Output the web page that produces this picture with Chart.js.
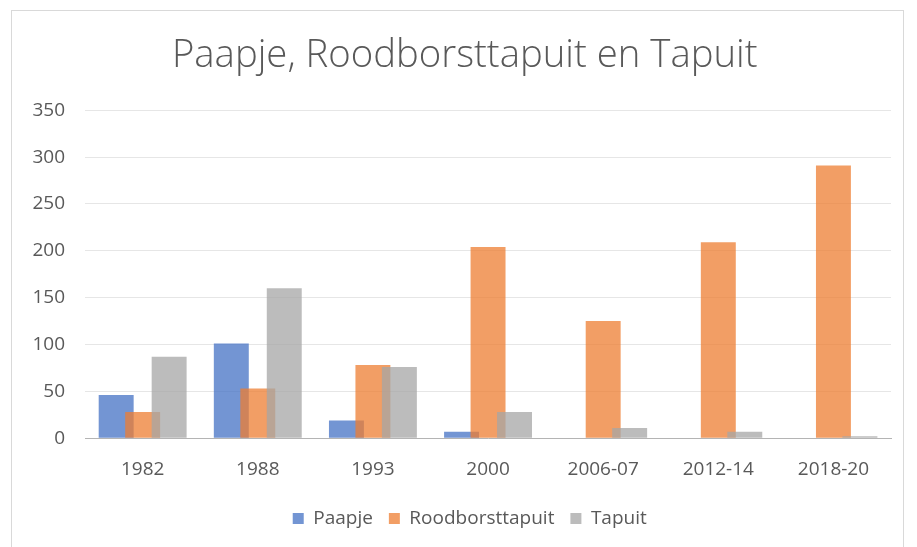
<!DOCTYPE html>
<html>
<head>
<meta charset="utf-8">
<script src="https://cdn.jsdelivr.net/npm/chart.js@4/dist/chart.umd.min.js"></script>
<style>
  html, body { margin: 0; padding: 0; background: #fff; }
  #wrap { position: relative; width: 917px; height: 547px; }
</style>
</head>
<body>
<div id="wrap"><canvas id="chart"></canvas></div>
<script>
const categories = ['1982', '1988', '1993', '2000', '2006-07', '2012-14', '2018-20'];
const paapje = [46, 101, 19, 7, 0, 0, 0];
const roodborsttapuit = [28, 53, 78, 204, 125, 209, 291];
const tapuit = [87, 160, 76, 28, 11, 7, 2];
const yTicks = [0, 50, 100, 150, 200, 250, 300, 350];

const textColor = '#595959';

// white background and thin frame like the Excel chart area
const framePlugin = {
    id: 'frame',
    beforeDraw(chart) {
        const c = chart.ctx;
        c.save();
        c.fillStyle = '#fff';
        c.fillRect(0, 0, chart.width, chart.height);
        c.strokeStyle = '#d9d9d9';
        c.lineWidth = 1;
        c.strokeRect(11.5, 10.5, 892, chart.height);
        c.restore();
    }
};

// Excel draws later series on top of earlier ones, Chart.js does the reverse
const seriesOrderPlugin = {
    id: 'seriesOrder',
    beforeDatasetsDraw(chart) {
        for (let i = 0; i < chart.data.datasets.length; i++) {
            const meta = chart.getDatasetMeta(i);
            if (meta.visible) meta.controller.draw();
        }
        return false;
    }
};

// Excel centres title and legend on the whole chart, not on the padded box
const centrePlugin = {
    id: 'centre',
    afterLayout(chart) {
        const shift = (box, dx) => {
            if (!box) return;
            box.left += dx;
            box.right += dx;
        };
        shift(chart.titleBlock, 13);
        shift(chart.legend, 18);
    }
};

const ctx = document.getElementById('chart').getContext('2d');
new Chart(ctx, {
    type: 'bar',
    data: {
        labels: categories,
        datasets: [
            {
                label: 'Paapje',
                data: paapje,
                backgroundColor: 'rgba(68, 114, 196, 0.75)'
            },
            {
                label: 'Roodborsttapuit',
                data: roodborsttapuit,
                backgroundColor: 'rgba(237, 125, 49, 0.75)'
            },
            {
                label: 'Tapuit',
                data: tapuit,
                backgroundColor: 'rgba(165, 165, 165, 0.75)'
            }
        ]
    },
    options: {
        responsive: true,
        maintainAspectRatio: false,
        animation: false,
        categoryPercentage: 0.69,
        barPercentage: 1.32,
        layout: {
            padding: { left: 12.5, right: 26, top: 33, bottom: 9 }
        },
        scales: {
            x: {
                grid: { display: false },
                border: { color: '#b4b4b4', width: 1 },
                ticks: {
                    color: textColor,
                    font: { family: 'Open Sans', size: 19 },
                    padding: 12
                }
            },
            y: {
                min: 0,
                max: 350,
                afterBuildTicks(axis) {
                    axis.ticks = yTicks.map(v => ({ value: v }));
                },
                grid: { color: '#e6e6e6', drawTicks: false },
                border: { display: false },
                ticks: {
                    color: textColor,
                    font: { family: 'Open Sans', size: 19 },
                    padding: 20
                }
            }
        },
        plugins: {
            title: {
                display: true,
                text: 'Paapje, Roodborsttapuit en Tapuit',
                color: textColor,
                font: { family: 'Open Sans', size: 38.3, weight: '300' },
                padding: { top: 0, bottom: 31.3 }
            },
            legend: {
                position: 'bottom',
                labels: {
                    color: textColor,
                    font: { family: 'Open Sans', size: 19 },
                    boxWidth: 11,
                    boxHeight: 11,
                    padding: 16
                }
            },
            tooltip: { enabled: false }
        }
    },
    plugins: [framePlugin, seriesOrderPlugin, centrePlugin]
});
</script>
</body>
</html>
